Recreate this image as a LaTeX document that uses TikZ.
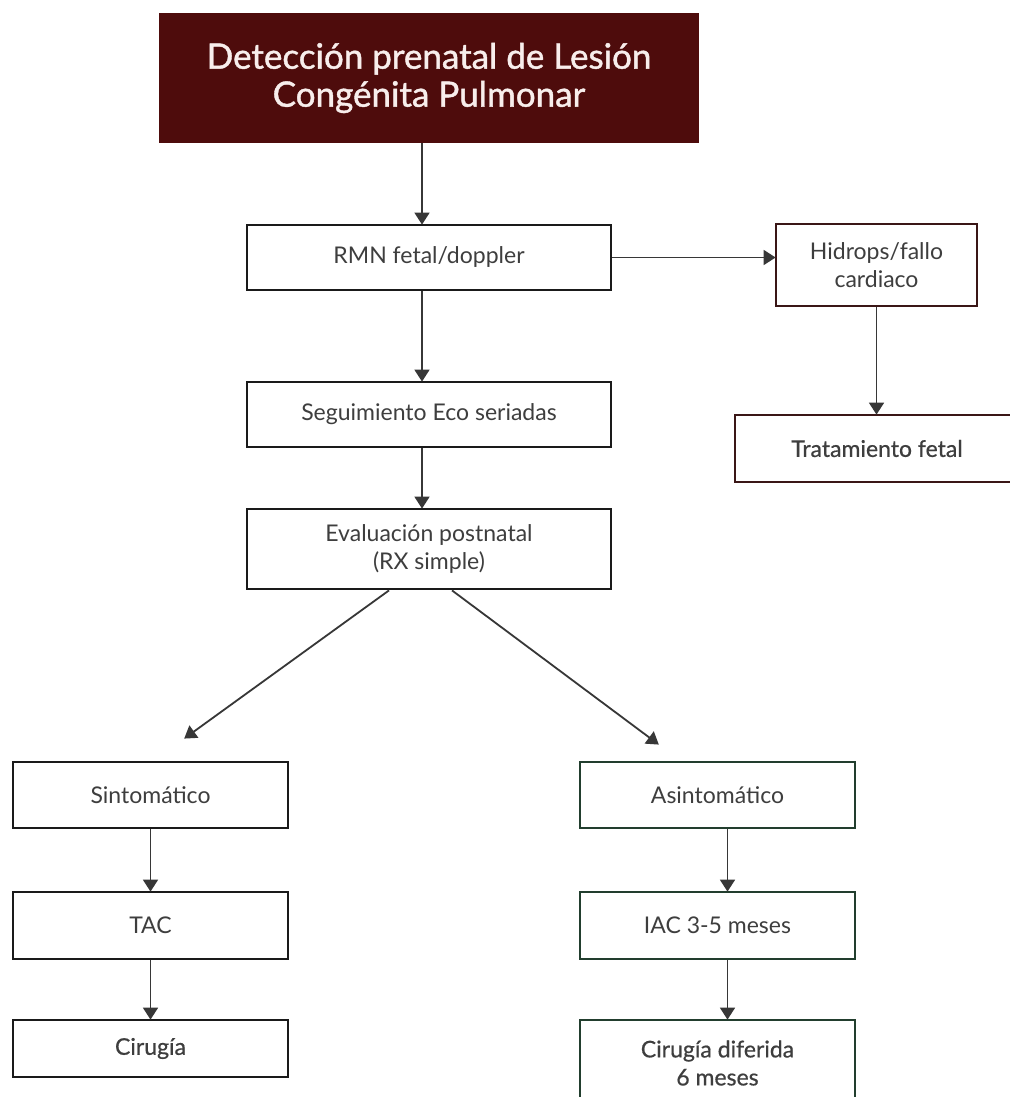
\documentclass[tikz,border=0pt]{standalone}
\usepackage{fontspec}
\setmainfont{Lato}
\newfontfamily\headfont[FakeBold=1.2]{Lato}
\newfontfamily\midfont[FakeBold=0.6]{Lato}
\usetikzlibrary{arrows.meta}
\definecolor{maroon}{RGB}{78,12,12}
\definecolor{titletext}{RGB}{248,238,236}
\definecolor{bodytext}{RGB}{62,62,62}
\definecolor{edgeblack}{RGB}{26,26,26}
\definecolor{edgered}{RGB}{58,22,22}
\definecolor{edgegreen}{RGB}{34,62,46}
\definecolor{arrowgray}{RGB}{55,55,55}
\begin{document}
\begin{tikzpicture}[x=1pt,y=-1pt,
  box/.style={draw=edgeblack, line width=2.8pt, fill=white, rectangle,
    inner sep=0pt, align=center, text=bodytext, font=\fontsize{23}{28}\selectfont},
  redbox/.style={box, draw=edgered},
  greenbox/.style={box, draw=edgegreen},
  heavy/.style={font=\midfont\fontsize{23}{28}\selectfont},
  titlebox/.style={rectangle, fill=maroon, draw=none, inner sep=0pt, align=center,
    text=titletext, font=\headfont\fontsize{35}{38}\selectfont},
  arr/.style={draw=arrowgray, line width=1.8pt,
    -{Triangle[width=15pt,length=12pt]}, shorten >=-1pt}
]
\useasboundingbox (0,0) rectangle (1009,1097);
\fill[white] (0,0) rectangle (1009,1097);

% main column
\node[titlebox, minimum width=540pt, minimum height=130pt] (det) at (429,78)
  {Detección prenatal de Lesión\\Congénita Pulmonar};
\node[box, minimum width=364pt, minimum height=65pt] (rmn) at (429,257.5) {RMN fetal/doppler};
\node[box, minimum width=364pt, minimum height=65pt] (seg) at (429,414.5) {Seguimiento Eco seriadas};
\node[box, minimum width=364pt, minimum height=80pt] (eva) at (429,549) {Evaluación postnatal\\(RX simple)};

% fetal branch
\node[redbox, minimum width=201pt, minimum height=82pt] (hid) at (876.5,265) {Hidrops/fallo\\cardiaco};
\node[redbox, heavy, minimum width=284pt, minimum height=67pt] (tra) at (877,448.5) {Tratamiento fetal};

% postnatal branches
\node[box, minimum width=275pt, minimum height=66pt] (sin) at (150.5,795) {Sintomático};
\node[box, minimum width=275pt, minimum height=67pt] (tac) at (150.5,925.5) {TAC};
\node[box, heavy, minimum width=275pt, minimum height=57pt] (cir) at (150.5,1048.5) {Cirugía};
\node[greenbox, minimum width=275pt, minimum height=66pt] (asi) at (717.5,795) {Asintomático};
\node[greenbox, minimum width=275pt, minimum height=67pt] (iac) at (717.5,925.5) {IAC 3-5 meses};
\node[greenbox, heavy, minimum width=275pt, minimum height=86pt] (cid) at (717.5,1063) {Cirugía diferida\\6 meses};

\coordinate (tipL) at (185,738);
\coordinate (tipR) at (658,744);

% connectors
\draw[arr] ([xshift=-7pt]det.south) -- ([xshift=-7pt]rmn.north);
\draw[arr] ([xshift=-7pt]rmn.south) -- ([xshift=-7pt]seg.north);
\draw[arr] ([xshift=-7pt]seg.south) -- ([xshift=-7pt]eva.north);
\draw[arr] (rmn.east) -- (rmn.east -| hid.west);
\draw[arr] (hid.south) -- (hid.south |- tra.north);
\draw[arr] ([xshift=-40pt]eva.south) -- (tipL);
\draw[arr] ([xshift=23pt]eva.south) -- (tipR);
\draw[arr] (sin.south) -- (tac.north);
\draw[arr] (tac.south) -- (cir.north);
\draw[arr] ([xshift=10pt]asi.south) -- ([xshift=10pt]iac.north);
\draw[arr] ([xshift=10pt]iac.south) -- ([xshift=10pt]cid.north);
\end{tikzpicture}
\end{document}
